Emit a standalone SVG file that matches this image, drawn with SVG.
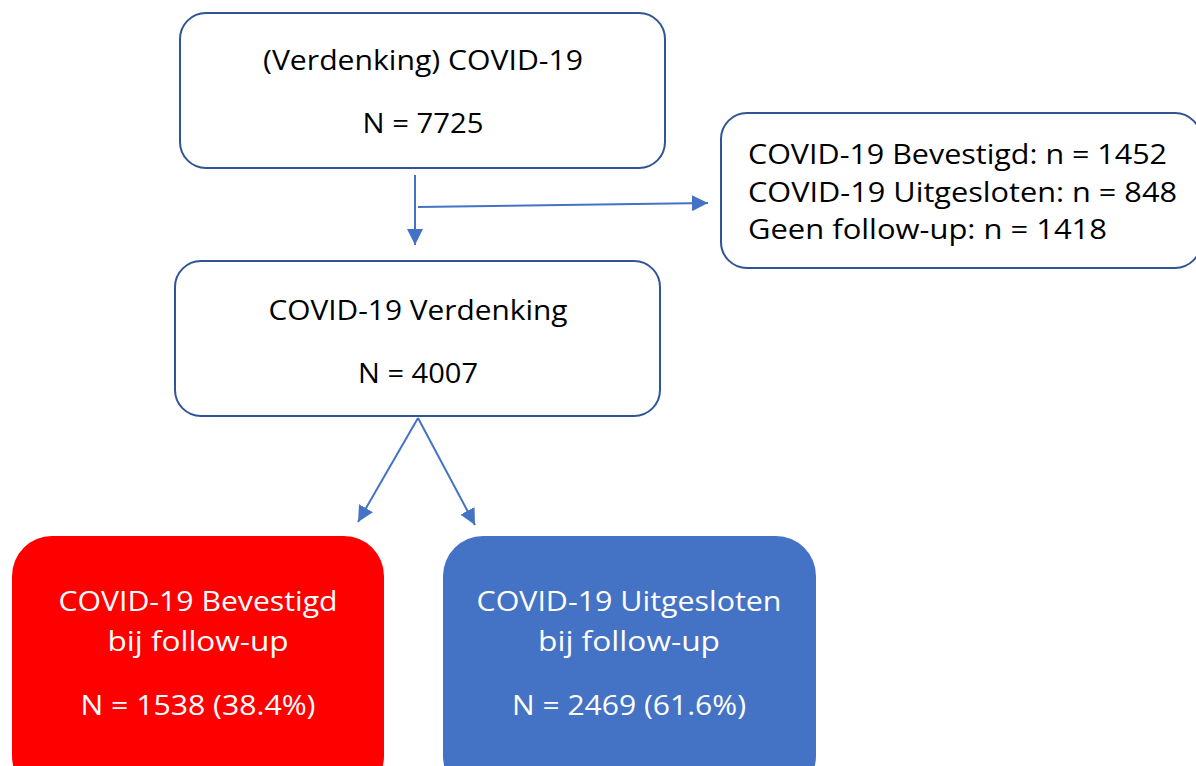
<svg xmlns="http://www.w3.org/2000/svg" width="1196" height="766" viewBox="0 0 1196 766">
<defs>
<style>
.box{fill:#FFFFFF;stroke:#2F5597;stroke-width:2}
.t{font-family:"Open Sans","Liberation Sans",sans-serif;font-size:28px;fill:#000000}
.c{text-anchor:middle}
.w{fill:#FFFFFF}
.conn{stroke:#4472C4;stroke-width:2;fill:none}
</style>
<marker id="ah" viewBox="0 0 10 10" refX="10" refY="5" markerWidth="16" markerHeight="16" markerUnits="userSpaceOnUse" orient="auto">
<path d="M0,0 L10,5 L0,10 z" fill="#4472C4"/>
</marker>
</defs>
<rect width="1196" height="766" fill="#FFFFFF"/>
<g id="connectors">
<line class="conn" x1="415" y1="175" x2="415" y2="245" marker-end="url(#ah)"/>
<line class="conn" x1="418" y1="207" x2="708" y2="203" marker-end="url(#ah)"/>
<line class="conn" x1="418" y1="418" x2="358" y2="522" marker-end="url(#ah)"/>
<line class="conn" x1="418" y1="418" x2="475" y2="525" marker-end="url(#ah)"/>
</g>
<g id="node-total">
<rect class="box" x="180" y="13" width="485" height="155" rx="26"/>
<text class="t c" x="423" y="70" textLength="320" lengthAdjust="spacingAndGlyphs">(Verdenking) COVID-19</text>
<text class="t c" x="423" y="133" textLength="121" lengthAdjust="spacingAndGlyphs">N = 7725</text>
</g>
<g id="node-excluded">
<rect class="box" x="721" y="113" width="480" height="155" rx="26"/>
<text class="t" x="748" y="164" textLength="419" lengthAdjust="spacingAndGlyphs">COVID-19 Bevestigd: n = 1452</text>
<text class="t" x="748" y="202" textLength="429" lengthAdjust="spacingAndGlyphs">COVID-19 Uitgesloten: n = 848</text>
<text class="t" x="748" y="239" textLength="359" lengthAdjust="spacingAndGlyphs">Geen follow-up: n = 1418</text>
</g>
<g id="node-suspected">
<rect class="box" x="175" y="261" width="485" height="155" rx="26"/>
<text class="t c" x="418" y="320" textLength="299" lengthAdjust="spacingAndGlyphs">COVID-19 Verdenking</text>
<text class="t c" x="418" y="383" textLength="120" lengthAdjust="spacingAndGlyphs">N = 4007</text>
</g>
<g id="node-confirmed">
<rect x="12" y="536" width="372" height="260" rx="40" fill="#FF0000"/>
<text class="t c w" x="198" y="611" textLength="279" lengthAdjust="spacingAndGlyphs">COVID-19 Bevestigd</text>
<text class="t c w" x="198" y="651" textLength="181" lengthAdjust="spacingAndGlyphs">bij follow-up</text>
<text class="t c w" x="198" y="715" textLength="235" lengthAdjust="spacingAndGlyphs">N = 1538 (38.4%)</text>
</g>
<g id="node-ruledout">
<rect x="443" y="536" width="373" height="260" rx="40" fill="#4472C4"/>
<text class="t c w" x="629" y="611" textLength="305" lengthAdjust="spacingAndGlyphs">COVID-19 Uitgesloten</text>
<text class="t c w" x="629" y="651" textLength="182" lengthAdjust="spacingAndGlyphs">bij follow-up</text>
<text class="t c w" x="629" y="715" textLength="234" lengthAdjust="spacingAndGlyphs">N = 2469 (61.6%)</text>
</g>
</svg>
